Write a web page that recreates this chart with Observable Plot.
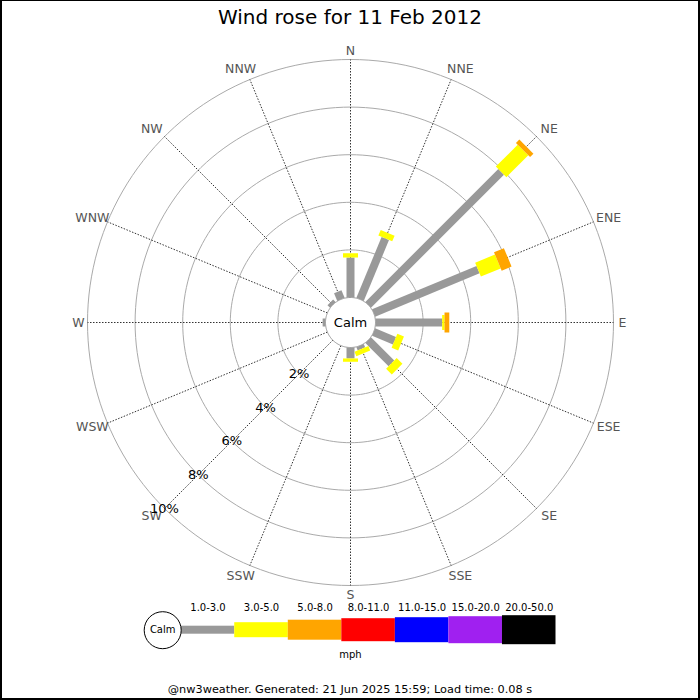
<!DOCTYPE html>
<html>
<head>
<meta charset="utf-8">
<script src="https://cdn.jsdelivr.net/npm/d3@7"></script>
<script src="https://cdn.jsdelivr.net/npm/@observablehq/plot@0.6"></script>
<style>
html, body { margin: 0; padding: 0; background: #fff; }
#page { position: relative; width: 700px; height: 700px; overflow: hidden; font-family: "DejaVu Sans", sans-serif; color: #000; }
#title { position: absolute; left: 0; top: 0; width: 700px; height: 34px; line-height: 34px; text-align: center; font-size: 20px; }
#rose { position: absolute; left: 0; top: 0; }
#legend { position: absolute; left: 0; top: 595px; }
#footer { position: absolute; left: 0; top: 682px; width: 700px; height: 16px; line-height: 16px; text-align: center; font-size: 11.3px; }
#border { position: absolute; left: 0; top: 0; width: 700px; height: 700px; box-sizing: border-box; border-style: solid; border-color: #000; border-width: 1px 2px 2px 2px; pointer-events: none; }
svg { overflow: visible; }
</style>
</head>
<body>
<div id="page">
  <div id="rose"></div>
  <div id="title"></div>
  <div id="legend"></div>
  <div id="footer"></div>
  <div id="border"></div>
</div>
<script>
// ---- data ----
const directions = ["N","NNE","NE","ENE","E","ESE","SE","SSE","S","SSW","SW","WSW","W","WNW","NW","NNW"];
const bands = ["1.0-3.0","3.0-5.0","5.0-8.0","8.0-11.0","11.0-15.0","15.0-20.0","20.0-50.0"];
// percent of time per direction for each speed band (mph)
const band1to3   = [1.68, 2.77, 7.90, 4.75, 2.80, 0.95, 1.38, 0.15, 0.46, 0, 0, 0, 0.12, 0, 0.15, 0.35];
const band3to5   = [0.18, 0.26, 1.30, 0.90, 0.10, 0.30, 0.34, 0.20, 0.14, 0, 0, 0, 0, 0, 0, 0];
const band5to8   = [0, 0, 0.20, 0.45, 0.20, 0, 0, 0, 0, 0, 0, 0, 0, 0, 0, 0];
const band8to11  = [0, 0, 0, 0, 0, 0, 0, 0, 0, 0, 0, 0, 0, 0, 0, 0];
const band11to15 = [0, 0, 0, 0, 0, 0, 0, 0, 0, 0, 0, 0, 0, 0, 0, 0];
const band15to20 = [0, 0, 0, 0, 0, 0, 0, 0, 0, 0, 0, 0, 0, 0, 0, 0];
const band20to50 = [0, 0, 0, 0, 0, 0, 0, 0, 0, 0, 0, 0, 0, 0, 0, 0];
const ringTicks  = [2, 4, 6, 8, 10];
const ringLabels = ["2%", "4%", "6%", "8%", "10%"];
const titleText  = "Wind rose for 11 Feb 2012";
const unitLabel  = "mph";
const calmLabel  = "Calm";
const footerText = "@nw3weather. Generated: 21 Jun 2025 15:59; Load time: 0.08 s";

// ---- styles ----
const bandColors = ["#999999", "#ffff00", "#ffa500", "#ff0000", "#0000ff", "#a020f0", "#000000"];
const bandWidths = [8, 15, 20, 23, 25, 27, 29];
const pxPerPct = 23.8;       // pixel length of 1 %
const calmR = 25 / pxPerPct; // calm circle radius in % units
const cx = 350, cy = 322;
const labelFont = 12.5;

const bandValues = [band1to3, band3to5, band5to8, band8to11, band11to15, band15to20, band20to50];

// stacked segments
const segs = [];
directions.forEach((dir, i) => {
  let start = 0;
  bandValues.forEach((vals, b) => {
    const v = vals[i];
    if (v > 0) { segs.push({dir, i, band: b, r0: start, r1: start + v}); start += v; }
  });
});
const ang = i => i * Math.PI / 8;
const px = (r, a) => (calmR + r) * Math.sin(a);
const py = (r, a) => (calmR + r) * Math.cos(a);

// ring geometry
const ringPts = [];
ringTicks.forEach(p => { for (let k = 0; k < 360; k += 2) { const a = k * Math.PI / 180; ringPts.push({p, x: px(p, a), y: py(p, a)}); } });
const calmPts = [];
for (let k = 0; k < 360; k += 2) { const a = k * Math.PI / 180; calmPts.push({x: px(0, a), y: py(0, a)}); }
const maxRing = d3.max(ringTicks);
const sw = 10 * Math.PI / 8;

// direction label placement (just outside the outer ring)
const isCardinal = i => i % 4 === 0;
const labelR = i => (isCardinal(i) ? 272 : 274) / pxPerPct - calmR;
const labelX = (d, i) => {
  const a = ang(i);
  const s = Math.sin(a);
  const shift = isCardinal(i) ? 0 : Math.sign(Math.round(s * 1000)) * 5 / pxPerPct;
  return px(labelR(i), a) + shift;
};
const labelY = (d, i) => py(labelR(i), ang(i));

document.getElementById("title").textContent = titleText;
document.getElementById("footer").textContent = footerText;

const rose = Plot.plot({
  width: 700, height: 700, margin: 0,
  style: {fontFamily: "DejaVu Sans, sans-serif", background: "transparent", overflow: "visible"},
  x: {domain: [-cx / pxPerPct, (700 - cx) / pxPerPct], axis: null},
  y: {domain: [-(700 - cy) / pxPerPct, cy / pxPerPct], axis: null},
  marks: [
    Plot.line(ringPts, {x: "x", y: "y", z: "p", stroke: "#aaaaaa", strokeWidth: 1, curve: "linear-closed"}),
    Plot.link(directions, {
      x1: (d, i) => px(0, ang(i)), y1: (d, i) => py(0, ang(i)),
      x2: (d, i) => px(maxRing, ang(i)), y2: (d, i) => py(maxRing, ang(i)),
      stroke: "#333", strokeWidth: 1, strokeDasharray: "1.5,1.5"
    }),
    ...bands.map((b, k) => Plot.link(segs.filter(s => s.band === k), {
      x1: s => px(s.r0, ang(s.i)), y1: s => py(s.r0, ang(s.i)),
      x2: s => px(s.r1, ang(s.i)), y2: s => py(s.r1, ang(s.i)),
      stroke: bandColors[k], strokeWidth: bandWidths[k], strokeLinecap: "butt"
    })),
    Plot.line(calmPts, {x: "x", y: "y", fill: "white", stroke: "#999999", strokeWidth: 1, curve: "linear-closed"}),
    Plot.text([calmLabel], {x: 0, y: 0, text: d => d, fontSize: 13, fill: "black"}),
    Plot.text(directions, {x: labelX, y: labelY, text: d => d, fontSize: labelFont, fill: "#555555"}),
    Plot.text(ringTicks, {
      x: p => px(p, sw), y: p => py(p, sw),
      text: (p, i) => ringLabels[i], fontSize: 13, fill: "black"
    })
  ]
});
document.getElementById("rose").appendChild(rose);

const legend = Plot.plot({
  width: 700, height: 70, margin: 0,
  style: {fontFamily: "DejaVu Sans, sans-serif", background: "transparent", overflow: "visible"},
  x: {domain: [0, bands.length], range: [180.7, 555.5], axis: null},
  y: {domain: [-34.7, 35.3], range: [0, 70], axis: null},
  color: {type: "identity"},
  marks: [
    Plot.rect(bands, {
      x1: (d, i) => i, x2: (d, i) => i + 1,
      y1: (d, i) => -bandWidths[i] / 2, y2: (d, i) => bandWidths[i] / 2,
      fill: (d, i) => bandColors[i]
    }),
    Plot.text(bands, {x: (d, i) => i + 0.5, y: -22, text: d => d, fontSize: 10, fill: "black"}),
    Plot.dot([calmLabel], {x: 0, y: 0, dx: -18.5, r: 18.5, stroke: "black", fill: "white", strokeWidth: 1}),
    Plot.text([calmLabel], {x: 0, y: 0, dx: -18.5, text: d => d, fontSize: 10, fill: "black"}),
    Plot.text([unitLabel], {frameAnchor: "bottom", lineAnchor: "middle", dy: -11, text: d => d, fontSize: 10, fill: "black"})
  ]
});
document.getElementById("legend").appendChild(legend);
</script>
</body>
</html>
